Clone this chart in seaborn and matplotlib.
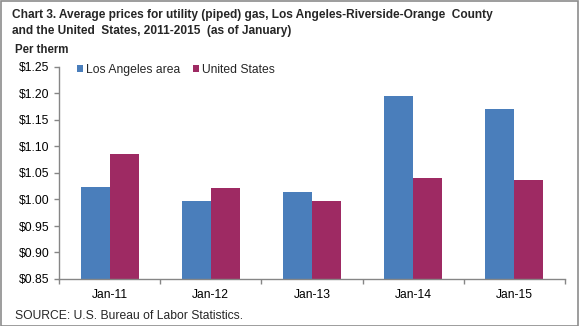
import matplotlib
matplotlib.use("Agg")
import matplotlib.pyplot as plt
from matplotlib.patches import Rectangle
from matplotlib.ticker import FixedLocator, FuncFormatter
import pandas as pd
import seaborn as sns

# Average price per therm, January of each year
months = ["Jan-11", "Jan-12", "Jan-13", "Jan-14", "Jan-15"]
la_prices = [1.023, 0.997, 1.014, 1.195, 1.170]
us_prices = [1.086, 1.021, 0.997, 1.040, 1.037]
series_names = ["Los Angeles area", "United States"]
colors = ["#4A7EBB", "#9E2A63"]

df = pd.DataFrame({
    "month": months * 2,
    "price": la_prices + us_prices,
    "area": [series_names[0]] * len(months) + [series_names[1]] * len(months),
})

sns.set_theme(style="white")
plt.rcParams["font.family"] = ["Liberation Sans", "DejaVu Sans"]

W, H = 579, 326
SMALL = 8.7
fig = plt.figure(figsize=(W / 100, H / 100), dpi=100)
ax = fig.add_axes([59 / W, 1 - 279 / H, (565 - 59) / W, (279 - 67) / H])

sns.barplot(data=df, x="month", y="price", hue="area", order=months,
            hue_order=series_names, palette=colors, width=0.575, gap=0,
            saturation=1, ax=ax, legend=True, edgecolor="none", linewidth=0)

ax.set_ylim(0.85, 1.25)
ax.set_xlim(-0.5, len(months) - 0.5)
ax.set_yticks([0.85 + 0.05 * i for i in range(9)])
ax.yaxis.set_major_formatter(FuncFormatter(lambda v, p: f"${v:.2f}"))
ax.set_xlabel("")
ax.set_ylabel("")

spine_color = "#868686"
for side in ["top", "right"]:
    ax.spines[side].set_visible(False)
for side in ["left", "bottom"]:
    ax.spines[side].set_color(spine_color)
    ax.spines[side].set_linewidth(1.0)

ax.tick_params(axis="y", which="major", direction="out", length=3.5, width=1,
               color=spine_color, labelsize=SMALL, pad=3.5, labelcolor="black", left=True)
ax.tick_params(axis="x", which="major", length=0, labelsize=SMALL, pad=7, labelcolor="black")
ax.xaxis.set_minor_locator(FixedLocator([i - 0.5 for i in range(len(months) + 1)]))
ax.tick_params(axis="x", which="minor", direction="out", length=3.5, width=1,
               color=spine_color, bottom=True)

leg = ax.legend(loc="upper left", bbox_to_anchor=(72 / W, 1 - 59 / H),
                bbox_transform=fig.transFigure, ncol=2, frameon=False,
                fontsize=SMALL, handlelength=0.5, handleheight=0.5,
                handletextpad=0.3, columnspacing=1.0, borderaxespad=0)

fig.text(12 / W, 1 - 9 / H,
         "Chart 3. Average prices for utility (piped) gas, Los Angeles-Riverside-Orange  County\n"
         "and the United  States, 2011-2015  (as of January)",
         fontsize=8.6, fontweight="bold", va="top", ha="left", linespacing=1.45)
fig.text(15 / W, 1 - 44 / H, "Per therm", fontsize=8.3, fontweight="bold", va="top", ha="left")
fig.text(15 / W, 1 - 316 / H, "SOURCE: U.S. Bureau of Labor Statistics.",
         fontsize=SMALL, va="center", ha="left")

fig.patches.append(Rectangle((0.5 / W, 0.5 / H), 1 - 1.5 / W, 1 - 1.5 / H,
                             transform=fig.transFigure, fill=False,
                             edgecolor="#8C8C8C", linewidth=1.2))

fig.savefig("out.png", dpi=100)
